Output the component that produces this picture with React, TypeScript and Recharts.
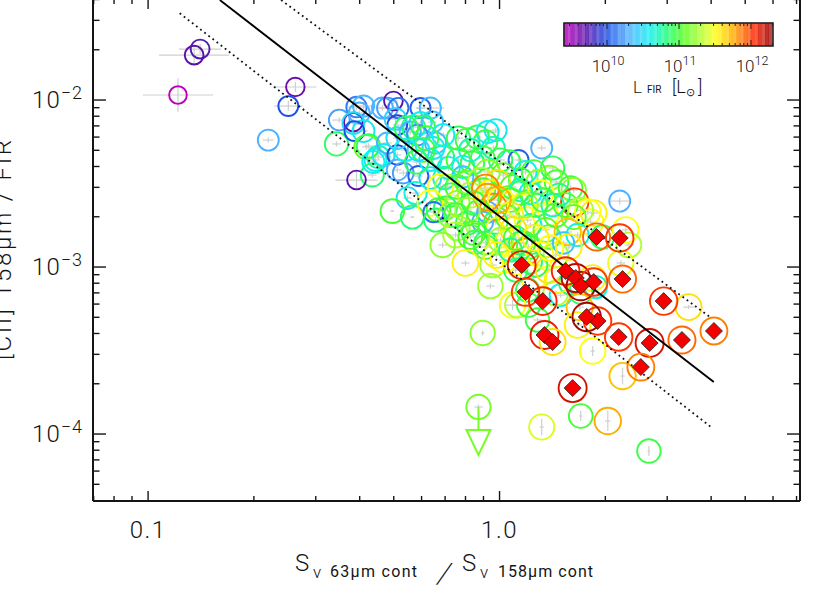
import { ScatterChart, Scatter, XAxis, YAxis, ErrorBar } from "recharts";

// every row: [log10 ratio, log10 deficit, log10 LFIR, x error (dex), y error (dex)]
type Row = number[];

const faintGalaxies: Row[] = [
  [-0.852, -1.695, 9.75, 0.06, 0.03],
  [-0.869, -1.731, 9.7, 0.1, 0.06],
  [-0.915, -1.97, 9.42, 0.1, 0.1],
  [-0.581, -1.922, 9.65, 0.06, 0.03],
  [-0.601, -2.036, 10.0, 0.04, 0.03],
  [-0.658, -2.24, 10.3, 0.015, 0.015],
  [-0.464, -2.263, 10.9],
  [-0.456, -2.12, 10.25, 0.02, 0.015],
  [-0.407, -2.042, 10.15, 0.03, 0.02],
  [-0.387, -2.036, 10.35, 0.03, 0.02],
  [-0.399, -2.078, 10.3, 0.02, 0.015],
  [-0.416, -2.132, 9.7, 0.02, 0.02],
  [-0.416, -2.138, 10.5],
  [-0.387, -2.186, 10.55],
  [-0.413, -2.186, 10.0],
  [-0.379, -2.281, 11.1],
  [-0.373, -2.275, 10.9],
  [-0.345, -2.341, 10.7],
  [-0.353, -2.359, 10.6],
  [-0.362, -2.449, 10.85],
  [-0.407, -2.479, 9.7, 0.06, 0.06],
  [-0.333, -2.048, 10.3],
  [-0.319, -2.048, 10.25, 0.03, 0.02],
  [-0.302, -2.006, 9.7],
  [-0.288, -2.048, 10.1],
  [-0.225, -2.048, 10.05],
  [-0.197, -2.048, 10.35, 0.04, 0.015],
  [-0.291, -2.15, 9.95],
  [-0.296, -2.114, 10.45],
  [-0.359, -2.371, 10.6],
  [-0.33, -2.329, 10.55],
  [-0.319, -2.257, 10.3],
  [-0.291, -2.329, 9.95],
  [-0.291, -2.228, 10.5],
  [-0.291, -2.419, 10.3],
  [-0.274, -2.437, 10.25],
  [-0.231, -2.455, 10.05],
  [-0.197, -2.467, 10.5],
  [-0.262, -2.587, 10.5],
  [-0.239, -2.557, 10.65],
  [-0.305, -2.665, 11.0, 0.006, 0.006],
  [-0.248, -2.701, 10.85, 0.006, 0.006],
  [-0.245, -2.162, 10.85],
  [-0.225, -2.138, 10.6],
  [-0.254, -2.192, 10.35],
  [-0.191, -2.132, 10.4],
  [-0.234, -2.21, 10.2],
  [-0.217, -2.162, 10.9],
  [-0.182, -2.257, 10.35],
  [-0.188, -2.287, 10.55],
  [-0.217, -2.299, 10.95],
  [-0.197, -2.359, 10.6],
  [-0.162, -2.341, 10.8],
  [-0.265, -2.168, 10.9],
  [-0.208, -2.228, 11.0],
  [-0.16, -2.21, 10.6],
  [-0.231, -2.299, 10.5],
  [-0.268, -2.299, 10.6],
  [-0.145, -2.407, 10.65],
  [-0.236, -2.371, 10.9],
  [-0.157, -2.467, 10.7],
];

const upperRidge: Row[] = [
  [-0.117, -2.228, 10.9],
  [-0.091, -2.24, 11.0],
  [-0.063, -2.222, 10.9],
  [-0.034, -2.192, 10.6, 0.03, 0.02],
  [-0.011, -2.18, 10.55],
  [-0.04, -2.251, 10.95],
  [-0.017, -2.287, 10.7],
  [0.003, -2.359, 10.9],
  [0.054, -2.359, 10.05],
  [0.026, -2.371, 10.95],
  [-0.103, -2.401, 10.6],
  [-0.077, -2.377, 10.9],
  [-0.048, -2.347, 10.95],
  [-0.034, -2.431, 11.2],
  [0.011, -2.449, 11.05],
  [-0.105, -2.461, 10.4],
  [-0.117, -2.359, 11.0],
  [-0.083, -2.299, 10.7],
  [0.12, -2.287, 10.3],
  [0.151, -2.407, 10.9],
  [0.142, -2.467, 11.2],
  [0.06, -2.479, 10.95],
  [0.074, -2.431, 10.6],
  [0.097, -2.431, 11.0],
  [0.111, -2.491, 11.2],
  [0.162, -2.491, 11.0],
  [0.202, -2.527, 11.0],
  [0.211, -2.539, 11.2],
  [0.168, -2.569, 10.8],
  [0.214, -2.611, 11.98],
  [0.088, -2.557, 10.6],
  [0.117, -2.557, 11.5],
  [0.06, -2.557, 10.95],
  [0.342, -2.605, 10.3, 0.03, 0.02],
];

const denseCore: Row[] = [
  [-0.168, -2.521, 11.5],
  [-0.148, -2.521, 11.3],
  [-0.12, -2.521, 11.0],
  [-0.091, -2.497, 11.1],
  [-0.054, -2.479, 11.3],
  [-0.006, -2.497, 11.6],
  [0.037, -2.521, 11.05],
  [0.06, -2.539, 10.7],
  [-0.046, -2.539, 11.0],
  [-0.026, -2.557, 11.55],
  [-0.14, -2.569, 10.9],
  [-0.083, -2.569, 11.3],
  [-0.04, -2.527, 11.85],
  [-0.197, -2.617, 11.5],
  [-0.154, -2.647, 10.85],
  [-0.174, -2.659, 11.0],
  [-0.188, -2.671, 10.1],
  [-0.182, -2.719, 10.85],
  [-0.12, -2.617, 11.2],
  [-0.074, -2.617, 10.95],
  [-0.034, -2.671, 10.3],
  [-0.017, -2.641, 11.85],
  [-0.048, -2.731, 10.3],
  [-0.091, -2.737, 10.9],
  [0.003, -2.599, 11.5],
  [-0.14, -2.689, 11.2],
  [0.031, -2.599, 11.0],
  [0.023, -2.701, 11.0],
  [0.06, -2.641, 11.5],
  [0.08, -2.719, 11.5],
  [0.088, -2.749, 10.6],
  [0.131, -2.689, 11.5],
  [0.131, -2.778, 11.1],
  [0.103, -2.629, 10.9],
  [0.16, -2.689, 11.0],
  [0.04, -2.778, 11.6],
  [-0.003, -2.778, 11.45],
  [0.188, -2.629, 11.05],
  [0.151, -2.629, 10.7],
  [-0.011, -2.731, 10.9],
  [-0.06, -2.671, 11.05],
  [0.031, -2.689, 11.55],
  [0.074, -2.629, 11.25],
  [0.125, -2.599, 11.0],
  [-0.006, -2.599, 11.75],
  [-0.034, -2.581, 11.8],
  [-0.091, -2.659, 11.25],
  [-0.125, -2.689, 10.95],
];

const lowerFlank: Row[] = [
  [-0.12, -2.766, 11.25],
  [-0.125, -2.808, 11.3],
  [-0.074, -2.796, 11.0],
  [-0.04, -2.856, 10.85],
  [-0.162, -2.868, 11.2],
  [0.068, -2.856, 11.0],
  [0.023, -2.856, 11.5],
  [-0.083, -2.82, 11.05],
  [-0.068, -2.85, 10.95],
  [-0.04, -2.88, 11.0],
  [-0.097, -2.976, 11.55],
  [-0.026, -3.114, 11.25],
  [-0.02, -2.988, 11.25],
  [0.011, -2.958, 11.5],
  [0.074, -2.91, 11.85],
  [0.083, -2.88, 11.0],
  [0.06, -2.856, 10.9],
  [0.097, -3.06, 11.5],
  [0.046, -3.018, 10.9],
  [0.046, -2.97, 11.5],
  [0.088, -2.97, 10.85],
  [0.003, -2.838, 11.25],
  [0.046, -2.826, 11.0],
  [0.031, -2.898, 10.8],
  [-0.009, -2.928, 11.55],
  [0.14, -2.82, 11.0],
  [0.103, -2.826, 11.55],
  [0.117, -2.928, 11.5],
  [0.16, -2.928, 11.3],
  [0.103, -2.988, 10.9],
  [0.14, -3.018, 11.6],
  [0.08, -3.138, 10.9],
  [0.174, -3.168, 10.6],
  [0.202, -3.096, 10.85],
  [0.16, -3.156, 11.3],
  [0.259, -2.731, 11.5],
  [0.231, -2.659, 11.3],
  [0.268, -2.677, 11.55],
  [0.251, -2.671, 11.5],
  [0.211, -2.701, 11.1],
  [0.194, -2.79, 11.7],
  [0.222, -2.808, 10.65],
  [0.293, -2.82, 10.9],
  [0.359, -2.778, 11.5],
  [0.368, -2.868, 11.3],
  [0.345, -2.976, 11.45],
  [0.182, -2.856, 10.4],
  [0.197, -2.88, 11.55],
  [0.145, -2.886, 11.5],
  [0.165, -3.078, 11.55],
  [0.265, -3.066, 11.55],
  [0.274, -3.12, 10.65],
  [0.231, -3.15, 10.9],
  [0.037, -3.228, 11.5, 0.02, 0.03],
  [0.051, -3.228, 11.3],
  [0.083, -3.228, 10.95],
  [0.108, -3.317, 10.95],
  [0.538, -3.24, 11.6, 0.015, 0.012],
  [0.228, -3.24, 11.7],
  [0.222, -3.347, 11.55],
  [0.265, -3.503, 11.5, 0.006, 0.03],
  [0.35, -3.653, 11.7, 0.006, 0.05],
  [0.231, -3.892, 11.0, 0.004, 0.03],
  [0.308, -3.922, 11.75, 0.008, 0.06],
  [0.425, -4.102, 10.95, 0.004, 0.03],
  [0.12, -3.958, 11.4, 0.006, 0.05],
  [-0.048, -3.395, 11.2, 0.005, 0.015],
];

const upperLimits: Row[] = [[-0.06, -3.838, 11.15]];

const ulirgs: Row[] = [
  [0.276, -2.82, 11.9],
  [0.342, -2.826, 12.0],
  [0.35, -3.072, 11.9],
  [0.188, -3.024, 12.05],
  [0.217, -3.066, 12.2],
  [0.231, -3.114, 12.25],
  [0.268, -3.09, 12.0],
  [0.063, -2.988, 12.1],
  [0.074, -3.15, 12.0],
  [0.123, -3.204, 12.05],
  [0.467, -3.204, 12.0],
  [0.61, -3.383, 11.85],
  [0.519, -3.437, 11.9],
  [0.427, -3.455, 12.15],
  [0.339, -3.419, 12.0],
  [0.402, -3.599, 11.85],
  [0.279, -3.323, 12.0],
  [0.248, -3.299, 12.25],
  [0.128, -3.407, 12.1],
  [0.151, -3.449, 11.6],
  [0.208, -3.725, 12.15],
];

const fitLine = [
  { x: 0.16, y: 0.0397 },
  { x: 4.07, y: 2.05e-4 },
];
const upperEnvelope = [
  { x: 0.239, y: 0.0397 },
  { x: 3.98, y: 5.0e-4 },
];
const lowerEnvelope = [
  { x: 0.123, y: 0.0331 },
  { x: 4.0, y: 1.1e-4 },
];

const xTicks = [0.07, 0.08, 0.09, 0.1, 0.2, 0.3, 0.4, 0.5, 0.6, 0.7, 0.8, 0.9, 1, 2, 3, 4, 5, 6, 7];
const yTicks = [
  5e-5, 6e-5, 7e-5, 8e-5, 9e-5, 1e-4, 2e-4, 3e-4, 4e-4, 5e-4, 6e-4, 7e-4, 8e-4, 9e-4, 1e-3, 2e-3,
  3e-3, 4e-3, 5e-3, 6e-3, 7e-3, 8e-3, 9e-3, 1e-2, 2e-2, 3e-2, 4e-2,
];
const xDomain = [0.0697, 7.16];
const yDomain = [3.972e-5, 0.04027];

// colour table of the luminosity bar
const lumStops: [number, string][] = [
  [9.4, "#c000c0"],
  [9.7, "#5a10a8"],
  [10.0, "#1a50e8"],
  [10.3, "#50b0ff"],
  [10.6, "#10f0f0"],
  [10.85, "#20ff70"],
  [11.05, "#50ff20"],
  [11.3, "#b0ff30"],
  [11.5, "#ffff10"],
  [11.7, "#ffc000"],
  [11.85, "#ff8000"],
  [12.05, "#ff2000"],
  [12.3, "#900000"],
];
const barBands = [
  9.42, 9.47, 9.52, 9.57, 9.62, 9.67, 9.72, 9.77, 9.82, 9.87, 9.92, 9.97, 10.02, 10.07, 10.12, 10.17,
  10.22, 10.27, 10.32, 10.37, 10.42, 10.47, 10.52, 10.57, 10.62, 10.67, 10.72, 10.77, 10.82, 10.87,
  10.92, 10.97, 11.02, 11.07, 11.12, 11.17, 11.22, 11.27, 11.32, 11.37, 11.42, 11.47, 11.52, 11.57,
  11.62, 11.67, 11.72, 11.77, 11.82, 11.87, 11.92, 11.97, 12.02, 12.07, 12.12, 12.17, 12.22, 12.27,
];
const barMajors = [10, 11, 12];
const barMinors = [
  9.48, 9.6, 9.7, 9.78, 9.85, 9.9, 9.95, 10.3, 10.48, 10.6, 10.7, 10.78, 10.85, 10.9, 10.95, 11.3,
  11.48, 11.6, 11.7, 11.78, 11.85, 11.9, 11.95, 12.3,
];

const FONT = "Roboto, 'Liberation Sans', sans-serif";
const WEIGHT = 300;
const INK = "#151515";

const hex = (c: string, i: number) => parseInt(c.slice(i, i + 2), 16);

function lumColor(l: number) {
  for (let i = 1; i < lumStops.length; i++) {
    const [l1, c1] = lumStops[i];
    if (l <= l1) {
      const [l0, c0] = lumStops[i - 1];
      const t = Math.max(0, (l - l0) / (l1 - l0));
      const mix = (k: number) => Math.round(hex(c0, k) + (hex(c1, k) - hex(c0, k)) * t);
      return `rgb(${mix(1)},${mix(3)},${mix(5)})`;
    }
  }
  return lumStops[lumStops.length - 1][1];
}

const toPoint = ([lx, ly, lum, ex = 0.012, ey = 0.016]: Row) => {
  const x = 10 ** lx;
  const y = 10 ** ly;
  return {
    x,
    y,
    lum,
    xErr: [x - 10 ** (lx - ex), 10 ** (lx + ex) - x],
    yErr: [y - 10 ** (ly - ey), 10 ** (ly + ey) - y],
  };
};

const circles = [...faintGalaxies, ...upperRidge, ...denseCore, ...lowerFlank].map(toPoint);
const limits = upperLimits.map(toPoint);
const rings = ulirgs.map(toPoint);

const radius = (lum: number) => 8.8 + (lum - 9.4) * 1.9;

const Ring = (props: any) => (
  <circle
    cx={props.cx}
    cy={props.cy}
    r={radius(props.payload.lum)}
    fill="none"
    stroke={lumColor(props.payload.lum)}
    strokeWidth={1.9}
  />
);

const LimitMark = (props: any) => {
  const { cx, cy } = props;
  const color = lumColor(props.payload.lum);
  return (
    <g fill="none" stroke={color} strokeWidth={2}>
      <circle cx={cx} cy={cy} r={radius(props.payload.lum)} />
      <line x1={cx} y1={cy} x2={cx} y2={cy + 23} />
      <path d={`M${cx - 12} ${cy + 23}L${cx + 12} ${cy + 23}L${cx} ${cy + 48}Z`} />
    </g>
  );
};

const Diamond = (props: any) => {
  const { cx, cy } = props;
  return (
    <path
      d={`M${cx - 8.5} ${cy}L${cx} ${cy - 8.5}L${cx + 8.5} ${cy}L${cx} ${cy + 8.5}Z`}
      fill="#f40000"
      stroke="#222"
      strokeWidth={0.8}
    />
  );
};

const NoMark = () => <g />;

const isMajor = (v: number) => Math.abs(Math.log10(v) - Math.round(Math.log10(v))) < 1e-6;

const XTick = ({ x, y, payload, top }: any) => {
  const len = isMajor(payload.value) ? 10 : 5;
  return (
    <g>
      <line x1={x} x2={x} y1={y} y2={top ? y + len : y - len} stroke={INK} strokeWidth={1.4} />
      {!top && isMajor(payload.value) && (
        <text x={x} y={y + 37} textAnchor="middle" fontFamily={FONT} fontWeight={WEIGHT} fontSize={24} letterSpacing={1.5} fill={INK}>
          {payload.value === 1 ? "1.0" : String(payload.value)}
        </text>
      )}
    </g>
  );
};

const YTick = ({ x, y, payload, right }: any) => {
  const len = isMajor(payload.value) ? 13 : 6.5;
  return (
    <g>
      <line y1={y} y2={y} x1={x} x2={right ? x - len : x + len} stroke={INK} strokeWidth={1.4} />
      {!right && isMajor(payload.value) && (
        <text x={x - 10} y={y + 8} textAnchor="end" fontFamily={FONT} fontWeight={WEIGHT} fontSize={24} letterSpacing={1} fill={INK}>
          10
          <tspan fontSize={18} dy={-9}>
            {"\u2212" + Math.round(-Math.log10(payload.value))}
          </tspan>
        </text>
      )}
    </g>
  );
};

const dotted = { stroke: "#111", strokeWidth: 1.8, strokeDasharray: "1.8 3.4" };
const axisLine = { stroke: INK, strokeWidth: 2 };

function LuminosityBar() {
  const left = 564;
  const perDex = 72;
  const at = (l: number) => 607 + (l - 10) * perDex;
  return (
    <g fontFamily={FONT} fontWeight={WEIGHT} fill={INK}>
      {barBands.map((l, i) => (
        <rect
          key={l}
          x={at(l - 0.025)}
          y={23}
          width={perDex * 0.05 + 0.4}
          height={23}
          fill={lumColor(l)}
          opacity={i % 2 ? 0.72 : 0.84}
        />
      ))}
      {[...barMinors, ...barMajors].map((l) => (
        <g key={l} stroke="#222" strokeWidth={1}>
          <line x1={at(l)} x2={at(l)} y1={23} y2={barMajors.includes(l) ? 29 : 26} />
          <line x1={at(l)} x2={at(l)} y1={46} y2={barMajors.includes(l) ? 40 : 43} />
        </g>
      ))}
      <rect x={left} y={23} width={209} height={23} fill="none" stroke="#222" strokeWidth={1.6} />
      {barMajors.map((l) => (
        <text key={l} x={at(l) + 1} y={72} textAnchor="middle" fontSize={17}>
          10
          <tspan fontSize={12.5} dy={-7}>
            {l}
          </tspan>
        </text>
      ))}
      <text x={633} y={93} fontSize={17}>
        L
      </text>
      <text x={647} y={93} fontSize={10} fontWeight={400}>
        FIR
      </text>
      <text x={672} y={93} fontSize={18}>
        [L
      </text>
      <text x={686} y={96} fontSize={11}>
        {"\u2299"}
      </text>
      <text x={698} y={93} fontSize={18}>
        ]
      </text>
    </g>
  );
}

export default function App() {
  return (
    <div style={{ position: "absolute", left: 0, top: -2, width: 830, height: 601, overflow: "hidden", background: "#fff" }}>
      <ScatterChart width={830} height={601} margin={{ top: 0, right: 29, bottom: 97, left: 92 }}>
        <XAxis
          xAxisId="bottom"
          dataKey="x"
          type="number"
          scale="log"
          domain={xDomain}
          ticks={xTicks}
          interval={0}
          height={1}
          tickLine={false}
          tickSize={0}
          tickMargin={0}
          axisLine={axisLine}
          allowDataOverflow
          tick={<XTick />}
        />
        <XAxis
          xAxisId="top"
          orientation="top"
          dataKey="x"
          type="number"
          scale="log"
          domain={xDomain}
          ticks={xTicks}
          interval={0}
          height={1}
          tickLine={false}
          tickSize={0}
          tickMargin={0}
          axisLine={axisLine}
          allowDataOverflow
          tick={<XTick top />}
        />
        <YAxis
          yAxisId="left"
          dataKey="y"
          type="number"
          scale="log"
          domain={yDomain}
          ticks={yTicks}
          interval={0}
          width={1}
          tickLine={false}
          tickSize={0}
          tickMargin={0}
          axisLine={axisLine}
          allowDataOverflow
          tick={<YTick />}
        />
        <YAxis
          yAxisId="right"
          orientation="right"
          dataKey="y"
          type="number"
          scale="log"
          domain={yDomain}
          ticks={yTicks}
          interval={0}
          width={1}
          tickLine={false}
          tickSize={0}
          tickMargin={0}
          axisLine={axisLine}
          allowDataOverflow
          tick={<YTick right />}
        />

        <Scatter data={[...circles, ...limits, ...rings]} xAxisId="bottom" yAxisId="left" shape={NoMark} isAnimationActive={false}>
          <ErrorBar dataKey="xErr" direction="x" width={0} stroke="#cfcfcf" strokeWidth={1.2} isAnimationActive={false} />
          <ErrorBar dataKey="yErr" direction="y" width={0} stroke="#cfcfcf" strokeWidth={1.2} isAnimationActive={false} />
        </Scatter>
        <Scatter data={circles} xAxisId="bottom" yAxisId="left" shape={Ring} isAnimationActive={false} />
        <Scatter data={limits} xAxisId="bottom" yAxisId="left" shape={LimitMark} isAnimationActive={false} />
        <Scatter data={rings} xAxisId="bottom" yAxisId="left" shape={Ring} isAnimationActive={false} />

        <Scatter data={lowerEnvelope} xAxisId="bottom" yAxisId="left" line={dotted} shape={NoMark} isAnimationActive={false} />
        <Scatter data={upperEnvelope} xAxisId="bottom" yAxisId="left" line={dotted} shape={NoMark} isAnimationActive={false} />
        <Scatter data={fitLine} xAxisId="bottom" yAxisId="left" line={{ stroke: "#000", strokeWidth: 1.9 }} shape={NoMark} isAnimationActive={false} />
        <Scatter data={rings} xAxisId="bottom" yAxisId="left" shape={Diamond} isAnimationActive={false} />
      </ScatterChart>

      <svg width={830} height={601} style={{ position: "absolute", left: 0, top: 2, pointerEvents: "none" }}>
        <LuminosityBar />
        <g fontFamily={FONT} fontWeight={WEIGHT} fill={INK}>
          <text x={295} y={571} fontSize={24}>
            S
          </text>
          <text x={313} y={578} fontSize={17}>
            {"\u03bd"}
          </text>
          <text x={330} y={577} fontSize={16} fontWeight={400} textLength={87}>
            {"63\u03bcm cont"}
          </text>
          <text transform="translate(436 583) skewX(-18)" fontSize={28}>
            /
          </text>
          <text x={462} y={571} fontSize={24}>
            S
          </text>
          <text x={480} y={578} fontSize={17}>
            {"\u03bd"}
          </text>
          <text x={498} y={577} fontSize={16} fontWeight={400} textLength={95}>
            {"158\u03bcm cont"}
          </text>
          <text x={11} y={360} transform="rotate(-90 11 360)" fontSize={24} textLength={220}>
            {"[CII] 158\u03bcm / FIR"}
          </text>
        </g>
      </svg>
    </div>
  );
}
